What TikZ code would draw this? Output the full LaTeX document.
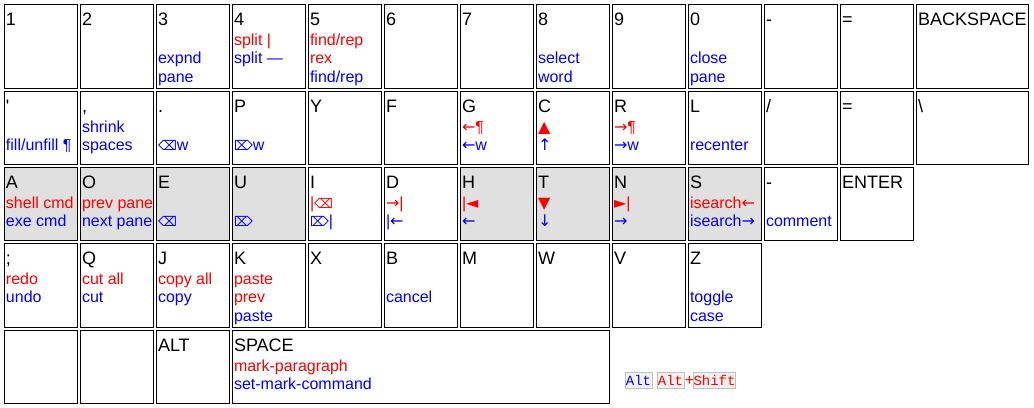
\documentclass[tikz,border=0pt]{standalone}
\usepackage{fontspec}
\setmainfont{Liberation Sans}[Ligatures=TeXOff]
\newfontfamily\symf{DejaVu Sans}
\newfontfamily\monof{Liberation Mono}[Ligatures=TeXOff]
\definecolor{keygray}{HTML}{E0E0E0}
\definecolor{legfill}{HTML}{F2F2F2}
\definecolor{legdraw}{HTML}{C0C0C0}
\tikzset{
  cellbox/.style={draw=black, line width=0.75pt, inner sep=0pt, outer sep=0pt,
    anchor=north west, minimum width=54.75pt, minimum height=54.75pt, fill=white},
  tall/.style={minimum height=63pt},
  grey/.style={fill=keygray},
  lab/.style={anchor=base west, inner sep=0pt, outer sep=0pt,
    font=\fontsize{13.5pt}{16pt}\selectfont, text=black},
  rt/.style={anchor=base west, inner sep=0pt, outer sep=0pt,
    font=\fontsize{12pt}{14pt}\selectfont, text=red},
  bt/.style={anchor=base west, inner sep=0pt, outer sep=0pt,
    font=\fontsize{12pt}{14pt}\selectfont, text=blue},
  legkey/.style={draw=legdraw, fill=legfill, line width=0.75pt, inner sep=0pt,
    minimum height=12pt, font=\monof\fontsize{10.5pt}{12pt}\selectfont},
}
\newcommand\cell[5]{%
  \node[cellbox,#4] (#1) at ({#2*76+4.5},{#3+0.5}) {};
  \node[lab] (#1l) at ({#2*76+6},{#3+21}) {#5};}
\newcommand\txt[5]{%
  \node[#4] (#1) at ({#2*76+6},#3) {#5};}
\newcommand\bs{{\symf\fontsize{10pt}{12pt}\selectfont\char"232B}}
\newcommand\ds{{\symf\fontsize{10pt}{12pt}\selectfont\char"2326}}
\newcommand\sy[1]{{\symf #1}}
\begin{document}
\begin{tikzpicture}[x=0.75pt,y=-0.75pt]
\useasboundingbox (0,0) rectangle (1034,407);
% ---------- row 1 ----------
\cell{k1}{0}{4}{tall}{1}
\cell{k2}{1}{4}{tall}{2}
\cell{k3}{2}{4}{tall}{3}
\txt{k3b}{2}{63.5}{bt}{expnd}
\txt{k3c}{2}{82}{bt}{pane}
\cell{k4}{3}{4}{tall}{4}
\txt{k4a}{3}{45}{rt}{split |}
\txt{k4b}{3}{63.5}{bt}{split —}
\cell{k5}{4}{4}{tall}{5}
\txt{k5a}{4}{45}{rt}{find/rep}
\txt{k5b}{4}{63.5}{rt}{rex}
\txt{k5c}{4}{82}{bt}{find/rep}
\cell{k6}{5}{4}{tall}{6}
\cell{k7}{6}{4}{tall}{7}
\cell{k8}{7}{4}{tall}{8}
\txt{k8b}{7}{63.5}{bt}{select}
\txt{k8c}{7}{82}{bt}{word}
\cell{k9}{8}{4}{tall}{9}
\cell{k0}{9}{4}{tall}{0}
\txt{k0b}{9}{63.5}{bt}{close}
\txt{k0c}{9}{82}{bt}{pane}
\cell{kmin}{10}{4}{tall}{-}
\cell{keq}{11}{4}{tall}{=}
\cell{kbsp}{12}{4}{tall,minimum width=84pt}{BACKSPACE}
% ---------- row 2 ----------
\cell{kq}{0}{91}{}{'}
\txt{kqb}{0}{150.5}{bt}{fill/unfill ¶}
\cell{kcomma}{1}{91}{}{,}
\txt{kcommaa}{1}{132}{bt}{shrink}
\txt{kcommab}{1}{150.5}{bt}{spaces}
\cell{kdot}{2}{91}{}{.}
\txt{kdotb}{2}{150.5}{bt}{\bs w}
\cell{kP}{3}{91}{}{P}
\txt{kPb}{3}{150.5}{bt}{\ds w}
\cell{kY}{4}{91}{}{Y}
\cell{kF}{5}{91}{}{F}
\cell{kG}{6}{91}{}{G}
\txt{kGa}{6}{132}{rt}{\sy{←}¶}
\txt{kGb}{6}{150.5}{bt}{\sy{←}w}
\cell{kC}{7}{91}{}{C}
\txt{kCa}{7}{132}{rt}{\sy{▲}}
\txt{kCb}{7}{150.5}{bt}{\sy{↑}}
\cell{kR}{8}{91}{}{R}
\txt{kRa}{8}{132}{rt}{\sy{→}¶}
\txt{kRb}{8}{150.5}{bt}{\sy{→}w}
\cell{kL}{9}{91}{}{L}
\txt{kLb}{9}{150.5}{bt}{recenter}
\cell{kslash}{10}{91}{}{/}
\cell{keqb}{11}{91}{}{=}
\cell{kback}{12}{91}{minimum width=84pt}{\textbackslash}
% ---------- row 3 ----------
\cell{kA}{0}{167}{grey}{A}
\txt{kAa}{0}{208}{rt}{shell cmd}
\txt{kAb}{0}{226.5}{bt}{exe cmd}
\cell{kO}{1}{167}{grey}{O}
\txt{kOa}{1}{208}{rt}{prev pane}
\txt{kOb}{1}{226.5}{bt}{next pane}
\cell{kE}{2}{167}{grey}{E}
\txt{kEb}{2}{226.5}{bt}{\bs}
\cell{kU}{3}{167}{grey}{U}
\txt{kUb}{3}{226.5}{bt}{\ds}
\cell{kI}{4}{167}{}{I}
\txt{kIa}{4}{208}{rt}{|\bs}
\txt{kIb}{4}{226.5}{bt}{\ds|}
\cell{kD}{5}{167}{}{D}
\txt{kDa}{5}{208}{rt}{\sy{→}|}
\txt{kDb}{5}{226.5}{bt}{|\sy{←}}
\cell{kH}{6}{167}{grey}{H}
\txt{kHa}{6}{208}{rt}{|\sy{◄}}
\txt{kHb}{6}{226.5}{bt}{\sy{←}}
\cell{kT}{7}{167}{grey}{T}
\txt{kTa}{7}{208}{rt}{\sy{▼}}
\txt{kTb}{7}{226.5}{bt}{\sy{↓}}
\cell{kN}{8}{167}{grey}{N}
\txt{kNa}{8}{208}{rt}{\sy{►}|}
\txt{kNb}{8}{226.5}{bt}{\sy{→}}
\cell{kS}{9}{167}{grey}{S}
\txt{kSa}{9}{208}{rt}{isearch\sy{←}}
\txt{kSb}{9}{226.5}{bt}{isearch\sy{→}}
\cell{kminb}{10}{167}{}{-}
\txt{kminbb}{10}{226.5}{bt}{comment}
\cell{kent}{11}{167}{}{ENTER}
% ---------- row 4 ----------
\cell{ksemi}{0}{243}{tall}{;}
\txt{ksemia}{0}{284}{rt}{redo}
\txt{ksemib}{0}{302.5}{bt}{undo}
\cell{kQ}{1}{243}{tall}{Q}
\txt{kQa}{1}{284}{rt}{cut all}
\txt{kQb}{1}{302.5}{bt}{cut}
\cell{kJ}{2}{243}{tall}{J}
\txt{kJa}{2}{284}{rt}{copy all}
\txt{kJb}{2}{302.5}{bt}{copy}
\cell{kK}{3}{243}{tall}{K}
\txt{kKa}{3}{284}{rt}{paste}
\txt{kKb}{3}{302.5}{rt}{prev}
\txt{kKc}{3}{321}{bt}{paste}
\cell{kX}{4}{243}{tall}{X}
\cell{kB}{5}{243}{tall}{B}
\txt{kBb}{5}{302.5}{bt}{cancel}
\cell{kM}{6}{243}{tall}{M}
\cell{kW}{7}{243}{tall}{W}
\cell{kV}{8}{243}{tall}{V}
\cell{kZ}{9}{243}{tall}{Z}
\txt{kZb}{9}{302.5}{bt}{toggle}
\txt{kZc}{9}{321}{bt}{case}
% ---------- row 5 ----------
\node[cellbox] (kb1) at (4.5,330.5) {};
\node[cellbox] (kb2) at (80.5,330.5) {};
\cell{kalt}{2}{330}{}{ALT}
\cell{kspace}{3}{330}{minimum width=282.75pt}{SPACE}
\txt{kspacea}{3}{371}{rt}{mark-paragraph}
\txt{kspaceb}{3}{389.5}{bt}{set-mark-command}
% ---------- legend ----------
\node[legkey, minimum width=20.25pt, text=blue] (lalt) at (638.5,380) {Alt};
\node[legkey, minimum width=20.25pt, text=red] (lalt2) at (670.5,380) {Alt};
\node[inner sep=0pt, text=red, font=\fontsize{12pt}{14pt}\selectfont] (lplus) at (689.5,380.5) {+};
\node[legkey, minimum width=30.75pt, text=red] (lshift) at (714.5,380) {Shift};
\end{tikzpicture}
\end{document}
